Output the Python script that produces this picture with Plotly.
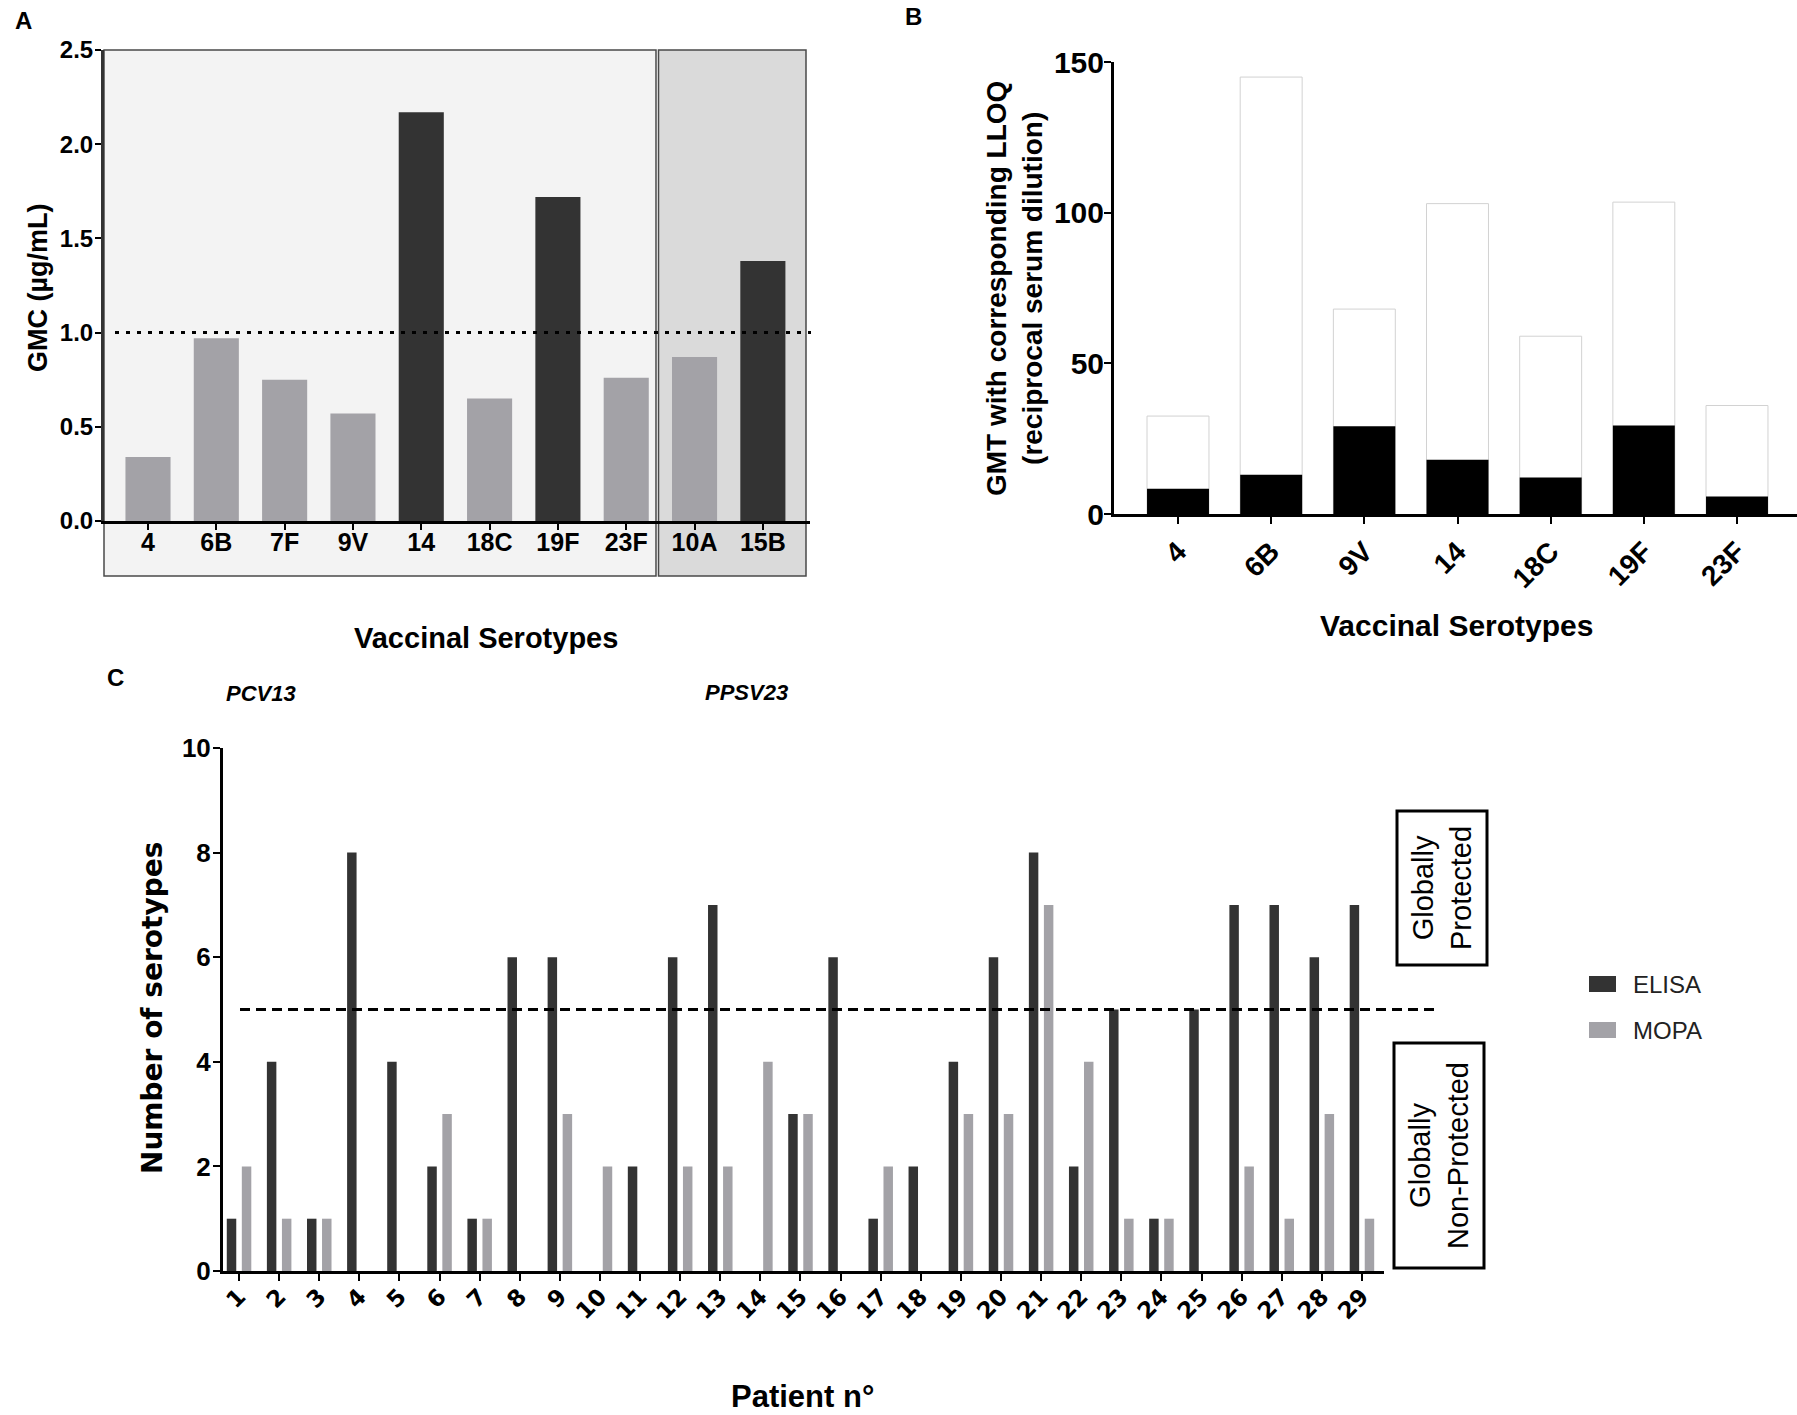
import plotly.graph_objects as go

W, H = 1797, 1415

# ---- panel A : GMC per serotype (ELISA)
serotypes_a = ["4", "6B", "7F", "9V", "14", "18C", "19F", "23F", "10A", "15B"]
gmc = [0.34, 0.97, 0.75, 0.57, 2.17, 0.65, 1.72, 0.76, 0.87, 1.38]
gmc_threshold = 1.0

# ---- panel B : GMT vs LLOQ (MOPA)
serotypes_b = ["4", "6B", "9V", "14", "18C", "19F", "23F"]
lloq = [32.5, 145, 68, 103, 59, 103.5, 36]
gmt = [8.4, 13, 29.1, 18, 12.1, 29.4, 5.8]

# ---- panel C : number of serotypes per patient
patients = list(range(1, 30))
elisa = [1, 4, 1, 8, 4, 2, 1, 6, 6, 0, 2, 6, 7, 0, 3, 6, 1, 2, 4, 6, 8, 2, 5, 1, 5, 7, 7, 6, 7]
mopa = [2, 1, 1, 0, 0, 3, 1, 0, 3, 2, 0, 2, 2, 4, 3, 0, 2, 0, 3, 3, 7, 4, 1, 1, 0, 2, 1, 3, 1]
protection_threshold = 5
series_names = ["ELISA", "MOPA"]

DARK = "#333333"
LIGHT = "#a3a2a7"
SANS = "Liberation Sans, Arial, sans-serif"
ROUND = "DejaVu Sans, Liberation Sans, sans-serif"


def px(x):
    return x / W


def py(y):
    return 1 - y / H


fig = go.Figure()

fig.add_trace(go.Bar(
    x=serotypes_a, y=gmc, width=0.66,
    marker=dict(color=[DARK if v >= gmc_threshold else LIGHT for v in gmc], line_width=0),
    xaxis="x", yaxis="y", showlegend=False))

fig.add_trace(go.Bar(
    x=serotypes_b, y=lloq, width=0.665, offset=-0.3325,
    marker=dict(color="white", line=dict(color="#d2d2d2", width=1)),
    xaxis="x2", yaxis="y2", showlegend=False))
fig.add_trace(go.Bar(
    x=serotypes_b, y=gmt, width=0.665, offset=-0.3325,
    marker=dict(color="black", line_width=0),
    xaxis="x2", yaxis="y2", showlegend=False))

fig.add_trace(go.Bar(x=patients, y=elisa, name=series_names[0],
                     marker=dict(color=DARK, line_width=0),
                     xaxis="x3", yaxis="y3", showlegend=False))
fig.add_trace(go.Bar(x=patients, y=mopa, name=series_names[1],
                     marker=dict(color=LIGHT, line_width=0),
                     xaxis="x3", yaxis="y3", showlegend=False))

axis_common = dict(showline=True, linewidth=3, linecolor="black", ticks="outside",
                   tickwidth=2, ticklen=7, tickcolor="black", showgrid=False,
                   zeroline=False, fixedrange=True, automargin=False)

fig.update_layout(
    width=W, height=H,
    margin=dict(l=0, r=0, t=0, b=0, pad=0, autoexpand=False),
    paper_bgcolor="white", plot_bgcolor="rgba(0,0,0,0)",
    barmode="group", bargap=0.25, bargroupgap=0.37,
    font=dict(family=SANS, color="black"),
    xaxis=dict(axis_common, domain=[px(104), px(810)], anchor="y",
               type="category", range=[-0.644, 9.69], ticklen=6,
               ticklabelstandoff=-9,
               tickfont=dict(size=25, family=SANS, weight="bold")),
    yaxis=dict(axis_common, domain=[py(521), py(50)], anchor="x",
               range=[0, 2.5], tickvals=[0, 0.5, 1, 1.5, 2, 2.5], tickformat=".1f",
               linecolor="#333333", ticklen=6, ticklabelstandoff=-3,
               tickfont=dict(size=24, family=SANS, weight="bold")),
    xaxis2=dict(axis_common, domain=[px(1114), 1.0], anchor="y2",
                type="category", range=[-0.687, 6.644], tickangle=-45,
                tickfont=dict(size=28, family=SANS, weight="bold")),
    yaxis2=dict(axis_common, domain=[py(514), py(62)], anchor="x2",
                range=[0, 150], dtick=50, ticklabelstandoff=-6,
                tickfont=dict(size=30, family=SANS, weight="bold")),
    xaxis3=dict(axis_common, domain=[px(223), px(1384)], anchor="y3",
                range=[0.6, 29.55], tickvals=patients, tickangle=-45,
                ticklabelstandoff=-7,
                tickfont=dict(size=23, family=ROUND, weight="bold")),
    yaxis3=dict(axis_common, domain=[py(1271), py(748)], anchor="x3",
                range=[0, 10], dtick=2, ticklabelstandoff=-3,
                tickfont=dict(size=26, family=SANS, weight="bold")),
)

shapes = [
    # shaded serotype groups in A
    dict(type="rect", xref="paper", yref="paper", x0=px(104), x1=px(656),
         y0=py(576), y1=py(50), fillcolor="#f3f3f3",
         line=dict(color="#4a4a4a", width=1.5), layer="below"),
    dict(type="rect", xref="paper", yref="paper", x0=px(658.5), x1=px(806),
         y0=py(576), y1=py(50), fillcolor="#dadada",
         line=dict(color="#4a4a4a", width=1.5), layer="below"),
    # thresholds
    dict(type="line", xref="paper", yref="y", x0=px(115), x1=px(811),
         y0=gmc_threshold, y1=gmc_threshold,
         line=dict(color="black", width=3, dash="4px,7px")),
    dict(type="line", xref="paper", yref="y3", x0=px(240), x1=px(1438),
         y0=protection_threshold, y1=protection_threshold,
         line=dict(color="black", width=3, dash="10px,6px")),
    # protection boxes in C
    dict(type="rect", xref="paper", yref="paper", x0=px(1397), x1=px(1487),
         y0=py(965), y1=py(811), line=dict(color="black", width=3)),
    dict(type="rect", xref="paper", yref="paper", x0=px(1394), x1=px(1484),
         y0=py(1268), y1=py(1043), line=dict(color="black", width=3)),
]
# legend swatches for C
for name, color, yc in zip(series_names, [DARK, LIGHT], [984, 1030]):
    shapes.append(dict(type="rect", xref="paper", yref="paper",
                       x0=px(1589), x1=px(1616), y0=py(yc + 8), y1=py(yc - 8),
                       fillcolor=color, line_width=0))
fig.update_layout(shapes=shapes)


def note(text, x, y, size, angle=0, bold=True, italic=False, family=SANS,
         xanchor="center", color="black"):
    fig.add_annotation(text=text, x=px(x), y=py(y), xref="paper", yref="paper",
                       showarrow=False, textangle=angle, xanchor=xanchor, yanchor="middle",
                       font=dict(size=size, family=family, color=color,
                                 weight="bold" if bold else "normal",
                                 style="italic" if italic else "normal"))


note("A", 23, 21, 24)
note("B", 913, 17, 24)
note("C", 115, 677, 24)
note("PCV13", 261, 693, 22, italic=True)
note("PPSV23", 746, 692, 22, italic=True)

note("GMC (µg/mL)", 38, 288, 27, angle=-90)
note("Vaccinal Serotypes", 486, 638, 29)

note("GMT with corresponding LLOQ<br>(reciprocal serum dilution)", 1014, 288, 28, angle=-90)
note("Vaccinal Serotypes", 1457, 625, 30)

note("Number of serotypes", 152, 1008, 28, angle=-90, family=ROUND)
note("Patient n°", 802, 1396, 31)

note("Globally<br>Protected", 1442, 888, 29, angle=-90, bold=False)
note("Globally<br>Non-Protected", 1439, 1156, 29, angle=-90, bold=False)

for name, yc in zip(series_names, [984, 1030]):
    note(name, 1631, yc, 24, bold=False, xanchor="left", color="#222222")

fig.write_html("out.html", config={"displayModeBar": False},
               post_script="document.body.style.margin='0';"
                           "document.body.style.overflow='hidden';")
